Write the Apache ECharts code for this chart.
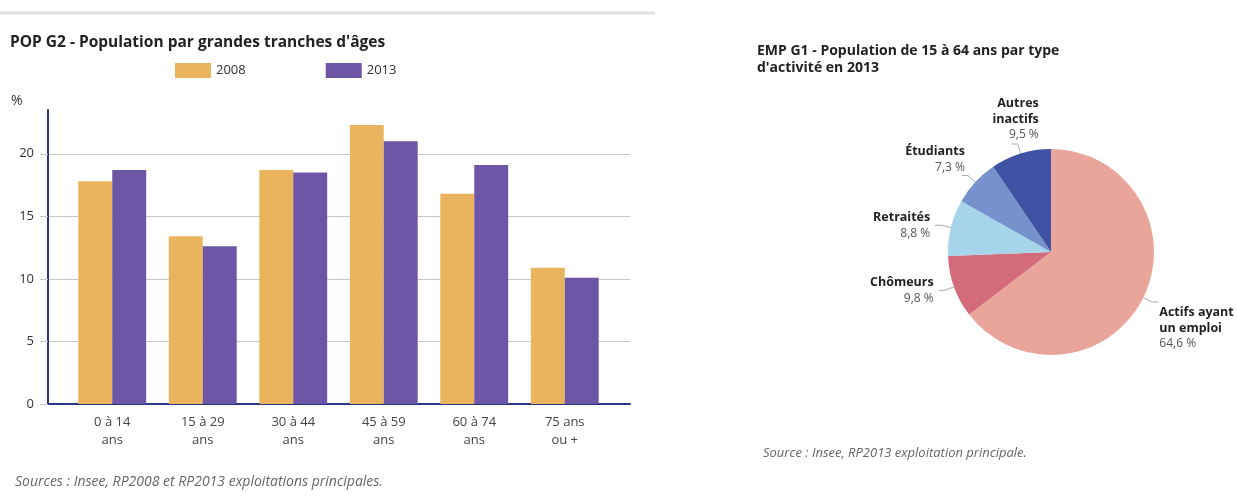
<!DOCTYPE html>
<html>
<head>
<meta charset="utf-8">
<script src="https://cdn.jsdelivr.net/npm/echarts@6/dist/echarts.min.js"></script>
<style>
  html, body { margin: 0; padding: 0; background: #fff; }
  #main { width: 1237px; height: 501px; }
</style>
</head>
<body>
<div id="main"></div>
<script>
// données du graphique POP G2
const ageGroups = ["0 à 14\nans", "15 à 29\nans", "30 à 44\nans", "45 à 59\nans", "60 à 74\nans", "75 ans\nou +"];
const pop2008 = [17.8, 13.4, 18.7, 22.3, 16.8, 10.9];
const pop2013 = [18.7, 12.6, 18.5, 21.0, 19.1, 10.1];

// données du graphique EMP G1
const activityNames = ["Actifs ayant\nun emploi", "Chômeurs", "Retraités", "Étudiants", "Autres\ninactifs"];
const activityValues = [64.6, 9.8, 8.8, 7.3, 9.5];
const activityColors = ["#eaa59b", "#d46b7b", "#a6d4ea", "#7592cc", "#3f51a3"];

const font = "'Open Sans', 'DejaVu Sans', sans-serif";
const yMax = 23.5;

const myChart = echarts.init(document.getElementById("main"));

const option = {
  textStyle: { fontFamily: font },
  title: [
    {
      text: "POP G2 - Population par grandes tranches d'âges",
      left: 10,
      top: 35,
      padding: 0,
      textStyle: { fontSize: 15.5, fontWeight: "bold", color: "#222", fontFamily: font },
    },
    {
      text: "%",
      left: 11,
      top: 94,
      padding: 0,
      textStyle: { fontSize: 14, fontWeight: "normal", color: "#333", fontFamily: font },
    },
    {
      text: "Sources : Insee, RP2008 et RP2013 exploitations principales.",
      left: 15,
      top: 475,
      padding: 0,
      textStyle: { fontSize: 14, fontStyle: "italic", fontWeight: "normal", color: "#666", fontFamily: font },
    },
    {
      text: "EMP G1 - Population de 15 à 64 ans par type\nd'activité en 2013",
      left: 757,
      top: 43,
      padding: 0,
      textStyle: { fontSize: 14, fontWeight: "bold", color: "#222", lineHeight: 17, fontFamily: font },
    },
    {
      text: "Source : Insee, RP2013 exploitation principale.",
      left: 763,
      top: 447,
      padding: 0,
      textStyle: { fontSize: 13, fontStyle: "italic", fontWeight: "normal", color: "#666", fontFamily: font },
    },
  ],
  graphic: [
    {
      type: "line",
      shape: { x1: 0, y1: 13, x2: 655, y2: 13 },
      style: { stroke: "#e2e2e2", lineWidth: 3 },
    },
  ],
  legend: {
    left: 175,
    top: 63,
    padding: 0,
    icon: "rect",
    itemWidth: 36,
    itemHeight: 15,
    itemGap: 80,
    textStyle: { fontSize: 13, color: "#333" },
    data: ["2008", "2013"],
  },
  grid: [
    // cadre : axe vertical et lignes de grille
    { left: 48, right: 607, top: 110, bottom: 97 },
    // barres
    { left: 67, right: 627, top: 110, bottom: 97 },
  ],
  xAxis: [
    {
      gridIndex: 0,
      type: "category",
      data: ageGroups,
      axisLine: { lineStyle: { color: "#2b3587", width: 2 } },
      axisTick: { show: false },
      axisLabel: { show: false },
    },
    {
      gridIndex: 1,
      type: "category",
      data: ageGroups,
      axisLine: { show: false },
      axisTick: { show: false },
      axisLabel: { fontSize: 13, color: "#444", lineHeight: 18, margin: 9 },
    },
  ],
  yAxis: [
    {
      gridIndex: 0,
      type: "value",
      min: 0,
      max: yMax,
      interval: 5,
      axisLine: { show: true, lineStyle: { color: "#2b3587", width: 2 } },
      axisTick: { show: true, length: 8, lineStyle: { color: "#c8c8c8" } },
      axisLabel: { fontSize: 13, color: "#333", margin: 14, showMaxLabel: false },
      splitLine: {
        lineStyle: { color: ["#c8c8c8", "#c8c8c8", "#c8c8c8", "#c8c8c8", "#c8c8c8", "transparent"] },
      },
    },
    {
      gridIndex: 1,
      type: "value",
      min: 0,
      max: yMax,
      show: false,
    },
  ],
  series: [
    {
      name: "2008",
      type: "bar",
      xAxisIndex: 1,
      yAxisIndex: 1,
      data: pop2008,
      barGap: "0%",
      barCategoryGap: "25%",
      itemStyle: { color: "#eab45e" },
      z: 3,
    },
    {
      name: "2013",
      type: "bar",
      xAxisIndex: 1,
      yAxisIndex: 1,
      data: pop2013,
      itemStyle: { color: "#6e56a6" },
      z: 3,
    },
    {
      type: "pie",
      center: [1051, 252],
      radius: 103,
      startAngle: 90,
      clockwise: true,
      avoidLabelOverlap: false,
      label: {
        show: true,
        overflow: "none",
        formatter: (p) => "{n|" + p.name + "}\n{v|" + String(p.value).replace(".", ",") + " %}",
        rich: {
          n: { fontSize: 12.5, fontWeight: "bold", color: "#222", lineHeight: 16, fontFamily: font },
          v: { fontSize: 12, color: "#555", lineHeight: 16, fontFamily: font },
        },
      },
      labelLine: {
        show: true,
        length: 10,
        length2: 6,
        lineStyle: { color: "#aaa", width: 1 },
      },
      labelLayout: (params) => {
        if (params.dataIndex === 0) return { dy: 26, dx: -4 };
        if (params.dataIndex === 3) return { dy: -16, dx: 8 };
        if (params.dataIndex === 4) return { dy: -25, dx: 32 };
        return {};
      },
      itemStyle: { borderWidth: 0 },
      emphasis: { disabled: true },
      data: activityNames.map((n, i) => ({
        name: n,
        value: activityValues[i],
        itemStyle: { color: activityColors[i] },
        label: i === 4 ? { align: "center" } : {},
      })),
    },
  ],
};

myChart.setOption(option);
</script>
</body>
</html>
